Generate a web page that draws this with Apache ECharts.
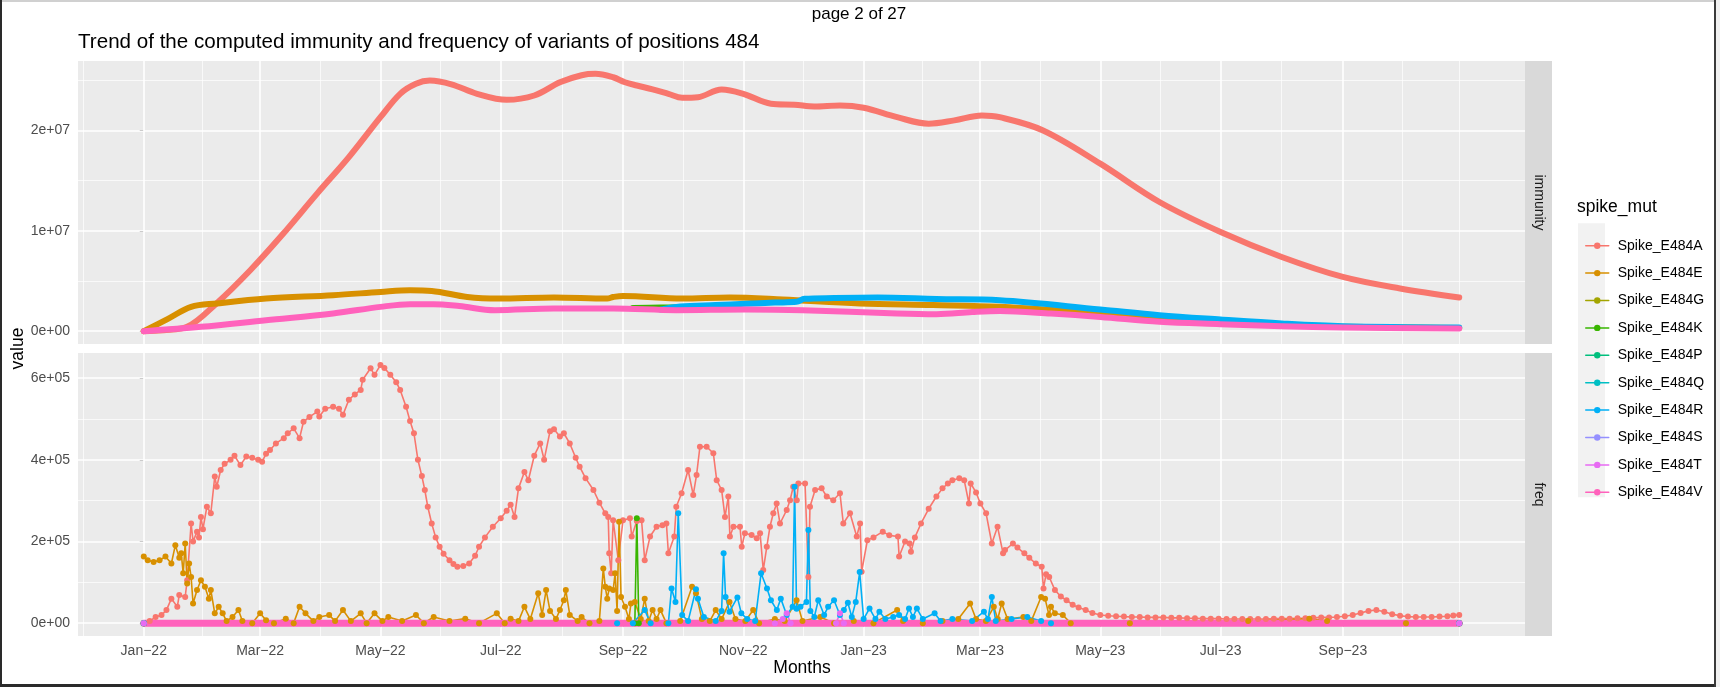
<!DOCTYPE html>
<html>
<head>
<meta charset="utf-8">
<title>Trend of immunity and frequency, position 484</title>
<script src="https://cdn.jsdelivr.net/npm/echarts@6.0.0/dist/echarts.min.js"></script>
<style>
  html, body { margin: 0; padding: 0; background: #ffffff; }
  #chart { width: 1720px; height: 687px; }
</style>
</head>
<body>
<div id="chart"></div>
<script>
// x values are days counted from 2022-01-01
const tickDays = [0, 59, 120, 181, 243, 304, 365, 424, 485, 546, 608];
const tickLabels = ['Jan−22', 'Mar−22', 'May−22', 'Jul−22', 'Sep−22', 'Nov−22',
  'Jan−23', 'Mar−23', 'May−23', 'Jul−23', 'Sep−23'];
const minorDays = [-30.5, 29.5, 89.5, 150.5, 212, 273.5, 334.5, 394.5, 454.5, 515.5, 577, 638, 667];

const variants = ['Spike_E484A', 'Spike_E484E', 'Spike_E484G', 'Spike_E484K', 'Spike_E484P',
  'Spike_E484Q', 'Spike_E484R', 'Spike_E484S', 'Spike_E484T', 'Spike_E484V'];

const immTicks = [0, 1e7, 2e7];
const immMinor = [5e6, 1.5e7, 2.5e7];
const freqTicks = [0, 2e5, 4e5, 6e5];
const freqMinor = [1e5, 3e5, 5e5];

// immunity, values in millions
const immA = [[0,0],[10,0.1],[22,0.43],[37,2.79],[54,6.07],[70,9.55],[88,13.73],[104,17.34],[120,21.32],
  [130,23.65],[138,24.65],[145,24.97],[156,24.6],[169,23.65],[184,23.05],[198,23.48],[211,24.8],[222,25.5],
  [229,25.64],[238,25.3],[244,24.8],[250,24.48],[258,24.1],[266,23.65],[273,23.25],[281,23.31],[293,24.08],
  [304,23.65],[318,22.66],[330,22.56],[340,22.39],[353,22.49],[365,22.26],[382,21.32],[398,20.67],[411,21.0],
  [425,21.49],[434,21.32],[456,20.0],[485,16.69],[515,12.87],[546,9.88],[577,7.39],[608,5.4],[637,4.25],[667,3.35]];
const immE = [[0,0],[12,1.2],[24,2.42],[37,2.76],[62,3.25],[96,3.58],[120,3.91],[135,4.08],[146,4.01],
  [164,3.41],[180,3.25],[208,3.35],[235,3.25],[238,3.4],[243,3.51],[273,3.25],[297,3.35],[324,3.15],
  [363,2.76],[400,2.6],[434,2.42],[485,1.75],[515,1.2],[546,0.9],[577,0.62],[608,0.45],[667,0.32]];
const immK = [[248,2.3],[262,2.35],[275,2.4]];
const immR = [[262,2.15],[272,2.45],[290,2.6],[305,2.72],[320,2.85],[331,2.92],[335,3.22],[350,3.3],
  [372,3.35],[402,3.2],[434,3.08],[485,2.16],[515,1.59],[546,1.16],[577,0.77],[608,0.5],[667,0.37]];
const immV = [[0,0],[29,0.43],[62,1.09],[96,1.76],[120,2.42],[135,2.69],[147,2.69],[160,2.5],[178,2.09],
  [208,2.26],[238,2.26],[270,2.09],[305,2.16],[334,2.09],[382,1.76],[402,1.69],[420,1.9],[434,2.0],
  [460,1.75],[485,1.42],[515,0.93],[546,0.7],[577,0.5],[608,0.37],[667,0.27]];

// frequency, values in units of 1e5
const freqA = [[0,0],[3,0.05],[6,0.15],[9,0.2],[11.5,0.32],[14,0.6],[17,0.4],[18,0.69],[21,0.64],[22,1.05],
  [24,2.44],[25,2.0],[27,2.24],[28,2.1],[29,2.6],[30,2.3],[32,2.85],[34,2.69],[36,3.59],[37,3.34],[39,3.75],
  [41,3.9],[44,4.0],[46,4.1],[49,3.87],[52,4.08],[55,4.05],[58,4.0],[60,3.95],[62,4.15],[64,4.24],[67,4.4],
  [71,4.53],[73,4.65],[76,4.77],[79,4.53],[81,4.93],[84,5.05],[88,5.18],[89,5.06],[92,5.25],[96,5.3],
  [99,5.25],[101,5.1],[104,5.47],[107,5.6],[110,5.71],[111,5.96],[115,6.24],[117,6.08],[120,6.32],[122,6.25],
  [125,6.08],[128,5.9],[130,5.71],[133,5.3],[135,4.95],[137,4.65],[139,4.0],[141,3.6],[142.5,3.26],[144,2.85],
  [146,2.44],[148,2.1],[150,1.87],[152,1.7],[155,1.54],[157,1.45],[159,1.38],[162,1.4],[165,1.46],[168,1.65],
  [170,1.87],[173,2.1],[177,2.36],[181,2.57],[184,2.75],[186,2.9],[188,2.6],[190,3.3],[193,3.7],[195,3.5],
  [198,4.1],[201,4.4],[203,4.0],[206,4.7],[208,4.75],[211,4.57],[213,4.65],[216,4.4],[219,4.05],[221,3.83],
  [224,3.55],[228,3.26],[231,2.95],[234,2.69],[235.5,2.6],[236,1.71],[237,1.22],[238,2.52],[240.6,1.54],
  [243,2.52],[246.5,2.57],[247.4,2.12],[250,2.5],[252.4,2.52],[254,1.54],[256.7,2.12],[260,2.36],[263,2.4],
  [265,2.44],[266,1.71],[269,2.12],[270,2.85],[272.7,3.18],[276,3.75],[278.6,3.14],[280.3,3.63],[282,4.32],
  [285.4,4.32],[288.8,4.16],[290.5,3.5],[293,3.26],[294.7,2.6],[296.4,3.1],[297.2,2.12],[299,2.36],[302.3,2.36],
  [303.2,1.87],[304.8,2.2],[308.2,2.16],[310.8,2.08],[312.5,2.2],[314.1,1.3],[315.9,1.87],[317.5,2.36],
  [319.2,2.69],[320.9,2.93],[322.6,2.44],[326,2.77],[327.7,3.01],[329.3,3.34],[331.1,3.01],[331.9,3.42],
  [335.3,3.42],[337,1.13],[337.8,2.85],[340.4,3.26],[343.7,3.3],[346.3,3.1],[349.6,3.01],[353,3.18],
  [354.7,2.44],[358.1,2.69],[361.5,2.12],[363.2,2.44],[364,1.26],[366.9,2.03],[370,2.1],[374.7,2.24],
  [378,2.15],[382.4,2.12],[383,1.63],[386,2.0],[388.3,1.95],[389,1.75],[391,2.1],[394.1,2.44],[398,2.8],
  [401.9,3.1],[405,3.3],[407.7,3.42],[410,3.5],[413.5,3.55],[416,3.5],[418.4,2.93],[419.3,3.42],[422,3.2],
  [424.2,2.93],[427.1,2.69],[430,1.95],[432.9,2.36],[435.7,1.71],[436.7,1.79],[440.7,1.95],[443,1.85],
  [446.5,1.71],[449,1.6],[452.3,1.46],[455.3,1.38],[456.2,0.85],[457.5,1.2],[459.1,1.13],[462,0.81],
  [465,0.65],[467.9,0.56],[471,0.45],[474,0.38],[477.6,0.32],[481,0.25],[485,0.2],[489,0.18],[493,0.17],
  [497,0.16],[501,0.15],[505,0.15],[509,0.14],[513,0.14],[517,0.14],[521,0.13],[525,0.13],[529,0.12],
  [533,0.12],[537,0.11],[541,0.11],[545,0.11],[549,0.1],[553,0.1],[557,0.1],[561,0.1],[565,0.1],[569,0.1],
  [573,0.11],[577,0.11],[581,0.11],[585,0.12],[589,0.12],[593,0.13],[597,0.14],[601,0.14],[605,0.15],
  [609,0.17],[613,0.2],[617,0.25],[621,0.3],[625,0.32],[629,0.28],[633,0.22],[637,0.18],[641,0.16],
  [645,0.15],[649,0.15],[653,0.15],[657,0.16],[661,0.17],[664,0.19],[667,0.2]];
const freqE = [[0,1.63],[2,1.54],[5,1.5],[8,1.54],[11,1.63],[14,1.46],[16,1.91],[18,1.6],[19,1.71],[20,1.22],
  [21,1.95],[22,0.97],[23,1.46],[24,1.13],[25,0.48],[27,0.81],[29,1.05],[31,0.89],[33,0.6],[34,0.81],
  [36,0.24],[38,0.4],[40,0.24],[42,0.05],[45,0.15],[48,0.32],[50,0.05],[55,0],[59,0.24],[62,0.07],[66,0],
  [72,0.11],[76,0],[79,0.4],[82,0.24],[86,0.05],[89,0.15],[94,0.2],[97,0.05],[101,0.32],[105,0.05],
  [110,0.24],[113,0],[117,0.24],[121,0.05],[124,0.15],[131,0.05],[138,0.2],[142,0],[147,0.15],[155,0.05],
  [163,0.11],[170,0],[179,0.24],[183,0],[186,0.11],[190,0.05],[193,0.4],[196,0.1],[200,0.73],[202,0.2],
  [204,0.81],[206,0.3],[209,0.1],[211,0.32],[213,0.56],[214,0.81],[216,0.2],[220,0.05],[222,0.15],[226,0],
  [231,0.05],[233,1.34],[234,0.89],[235,0.6],[236,0.85],[238,0.81],[239,1.22],[240,0.3],[241,2.48],
  [242,0.64],[244,0.4],[246,0.1],[247,0.48],[249,0.52],[252,0.1],[254,0.6],[256,0.05],[258,0.32],[260,0.1],
  [262,0.32],[265,0],[272,0.05],[278,0.89],[280,0.73],[283,0.1],[287,0.05],[290,0.32],[293,0.1],[297,0.52],
  [300,0.1],[305,0.05],[309,0.32],[312,0],[320,0.1],[325,0.05],[331,0.56],[334,0.05],[343,0.15],[350,0],
  [360,0.05],[370,0],[382,0.32],[385,0.05],[395,0],[405,0.05],[413,0.1],[419,0.48],[422,0.1],[427,0.05],
  [431,0.4],[433,0.1],[435,0.48],[438,0.1],[446,0.15],[450,0.05],[455,0.64],[457,0.6],[459,0.2],[460,0.4],
  [462,0.24],[466,0.2],[470,0],[500,0],[560,0.05],[591,0.11],[600,0.05],[640,0],[667,0]];
const freqG = [[0,0],[667,0]];
const freqK = [[0,0],[249,0],[250,2.57],[251,0],[667,0]];
const freqP = [[0,0],[667,0]];
const freqQ = [[0,0],[667,0]];
const freqR = [[240,0],[248,0],[254,0.32],[257,0],[266,0],[267.6,0.85],[269.6,0.52],[271,2.69],[273,0.2],
  [276,0.05],[280,0.83],[281,0.6],[284,0.15],[290,0.05],[293,0.3],[294,1.71],[295,0.64],[297,0.28],
  [301,0.63],[303,0.24],[306,0.1],[310,0.05],[313,1.22],[316,0.85],[318,0.56],[321,0.32],[323,0.6],
  [326,0.2],[329,0.4],[330,3.34],[331,0.35],[333,0.4],[336,0.52],[337,2.28],[338,0.3],[340,0.15],
  [342,0.56],[345,0.2],[347,0.4],[350,0.56],[353,0.2],[355,0.32],[357,0.5],[359,0.15],[361,0.52],
  [363,1.25],[365,0.1],[368,0.36],[371,0.1],[373,0.28],[376,0.1],[380,0.15],[383,0.2],[386,0.1],
  [388,0.36],[390,0.15],[392,0.36],[395,0.1],[401,0.24],[404,0.05],[410,0.1],[420,0.05],[426,0.28],
  [428,0.1],[430,0.64],[432,0.05],[440,0.1],[448,0.15],[455,0.05],[460,0]];
const freqS = [[0,0],[667,0]];
const freqT = [[0,0],[320,0],[324,0.1],[326,0.24],[328,0],[351,0],[353,0.24],[355,0],[667,0]];
const freqV = [[0,0],[59,0],[120,0],[181,0],[243,0],[304,0],[365,0],[424,0],[485,0],[546,0],[608,0],[667,0]];

const IMM_UNIT = 1e6;
const FREQ_UNIT = 1e5;

const colors = ['#F8766D', '#D89000', '#A3A500', '#39B600', '#00BF7D',
  '#00BFC4', '#00B0F6', '#9590FF', '#E76BF3', '#FF62BC'];
const font = '"Liberation Sans", Arial, Helvetica, sans-serif';

const freqSets = [freqA, freqE, freqG, freqK, freqP, freqQ, freqR, freqS, freqT, freqV];
const immSets = [immA, immE, null, immK, null, null, immR, null, null, immV];

function sci(v) {
  if (v === 0) return '0e+00';
  const e = Math.floor(Math.log10(v) + 1e-9);
  const m = Math.round(v / Math.pow(10, e));
  return m + 'e+' + String(e).padStart(2, '0');
}

function panelLines(majorY, minorY) {
  const major = { color: '#FFFFFF', width: 1.6, type: 'solid' };
  const minor = { color: '#FFFFFF', width: 0.7, type: 'solid' };
  const data = [];
  minorY.forEach(v => data.push({ yAxis: v, lineStyle: minor }));
  minorDays.forEach(v => data.push({ xAxis: v, lineStyle: minor }));
  majorY.forEach(v => data.push({ yAxis: v, lineStyle: major }));
  tickDays.forEach(v => data.push({ xAxis: v, lineStyle: major }));
  return {
    silent: true,
    z: 1,
    animation: false,
    symbol: ['none', 'none'],
    label: { show: false },
    emphasis: { disabled: true },
    data: data
  };
}

const chart = echarts.init(document.getElementById('chart'));

const series = [];
// frequency panel (dots + thin lines)
freqSets.forEach((set, i) => {
  const isV = i === 9;
  const s = {
    name: variants[i],
    type: 'line',
    xAxisIndex: 1,
    yAxisIndex: 1,
    data: set.map(p => [p[0], p[1] * FREQ_UNIT]),
    symbol: 'circle',
    symbolSize: 6,
    showSymbol: !isV,
    showAllSymbol: true,
    color: colors[i],
    lineStyle: { width: isV ? 7 : 1.6, cap: 'round', join: 'round' },
    silent: true,
    animation: false
  };
  if (i === 0) s.markLine = panelLines(freqTicks, freqMinor);
  series.push(s);
});
// immunity panel (thick lines)
immSets.forEach((set, i) => {
  if (!set) return;
  const s = {
    name: variants[i],
    type: 'line',
    xAxisIndex: 0,
    yAxisIndex: 0,
    data: set.map(p => [p[0], p[1] * IMM_UNIT]),
    symbol: 'circle',
    showSymbol: false,
    smooth: 0.35,
    color: colors[i],
    lineStyle: { width: 6, cap: 'round', join: 'round' },
    silent: true,
    animation: false
  };
  if (i === 0) s.markLine = panelLines(immTicks, immMinor);
  series.push(s);
});

const xMin = -33.35, xMax = 700.35;
const axisLabelStyle = { color: '#4D4D4D', fontSize: 14, fontFamily: font };

const option = {
  animation: false,
  backgroundColor: '#FFFFFF',
  title: {
    text: 'Trend of the computed immunity and frequency of variants of positions 484',
    left: 78,
    top: 32,
    padding: 0,
    textStyle: { fontSize: 20.6, fontWeight: 'normal', color: '#000000', fontFamily: font }
  },
  grid: [
    { left: 78, top: 61, width: 1447, height: 283, show: true, backgroundColor: '#EBEBEB', borderWidth: 0 },
    { left: 78, top: 353, width: 1447, height: 283, show: true, backgroundColor: '#EBEBEB', borderWidth: 0 }
  ],
  xAxis: [
    {
      type: 'value', gridIndex: 0, min: xMin, max: xMax,
      axisLine: { show: false }, axisTick: { show: false },
      axisLabel: { show: false }, splitLine: { show: false }
    },
    {
      type: 'value', gridIndex: 1, min: xMin, max: xMax,
      axisLine: { show: false },
      axisTick: { show: true, length: 4, customValues: tickDays, lineStyle: { color: '#333333', width: 1 } },
      axisLabel: Object.assign({
        customValues: tickDays, margin: 8,
        formatter: v => tickLabels[tickDays.indexOf(v)] || ''
      }, axisLabelStyle),
      splitLine: { show: false }
    }
  ],
  yAxis: [
    {
      type: 'value', gridIndex: 0, min: -1.28e6, max: 2.692e7,
      axisLine: { show: false },
      axisTick: { show: true, length: 4, customValues: immTicks, lineStyle: { color: '#333333', width: 1 } },
      axisLabel: Object.assign({ customValues: immTicks, margin: 8, formatter: sci }, axisLabelStyle),
      splitLine: { show: false }
    },
    {
      type: 'value', gridIndex: 1, min: -31500, max: 661500,
      axisLine: { show: false },
      axisTick: { show: true, length: 4, customValues: freqTicks, lineStyle: { color: '#333333', width: 1 } },
      axisLabel: Object.assign({ customValues: freqTicks, margin: 8, formatter: sci }, axisLabelStyle),
      splitLine: { show: false }
    }
  ],
  legend: {
    orient: 'vertical',
    left: 1580,
    top: 233.7,
    itemWidth: 23,
    itemHeight: 8,
    itemGap: 13.4,
    selectedMode: false,
    data: variants,
    lineStyle: { width: 1.5 },
    textStyle: { color: '#000000', fontSize: 14, fontFamily: font, lineHeight: 14, padding: [0, 0, 0, 4] }
  },
  graphic: [
    { type: 'rect', z: -1, shape: { x: 1578, y: 223.3, width: 27, height: 274 }, style: { fill: '#F2F2F2' } },
    { type: 'text', x: 1577, y: 207, style: { text: 'spike_mut', fill: '#000000', font: '17.5px ' + font, verticalAlign: 'middle' } },
    { type: 'rect', shape: { x: 1525, y: 61, width: 27, height: 283 }, style: { fill: '#D9D9D9' } },
    { type: 'rect', shape: { x: 1525, y: 353, width: 27, height: 283 }, style: { fill: '#D9D9D9' } },
    { type: 'text', x: 1538.5, y: 202.5, rotation: -Math.PI / 2,
      style: { text: 'immunity', fill: '#1A1A1A', font: '14px ' + font, align: 'center', verticalAlign: 'middle' } },
    { type: 'text', x: 1538.5, y: 494.5, rotation: -Math.PI / 2,
      style: { text: 'freq', fill: '#1A1A1A', font: '14px ' + font, align: 'center', verticalAlign: 'middle' } },
    { type: 'text', x: 18, y: 348.5, rotation: Math.PI / 2,
      style: { text: 'value', fill: '#000000', font: '17.5px ' + font, align: 'center', verticalAlign: 'middle' } },
    { type: 'text', x: 802, y: 668,
      style: { text: 'Months', fill: '#000000', font: '17.5px ' + font, align: 'center', verticalAlign: 'middle' } },
    { type: 'text', x: 859, y: 14,
      style: { text: 'page 2 of 27', fill: '#000000', font: '17px ' + font, align: 'center', verticalAlign: 'middle' } },
    // page frame
    { type: 'rect', shape: { x: 0, y: 0, width: 1720, height: 2 }, style: { fill: '#D0D0D0' } },
    { type: 'rect', shape: { x: 0, y: 0, width: 2, height: 687 }, style: { fill: '#2A2A2A' } },
    { type: 'rect', shape: { x: 0, y: 684, width: 1720, height: 3 }, style: { fill: '#2A2A2A' } },
    { type: 'rect', shape: { x: 1714, y: 0, width: 2, height: 687 }, style: { fill: '#3A3A3A' } },
    { type: 'rect', shape: { x: 1716, y: 0, width: 4, height: 687 }, style: { fill: '#F0F0F0' } }
  ],
  series: series
};

chart.setOption(option);
</script>
</body>
</html>
